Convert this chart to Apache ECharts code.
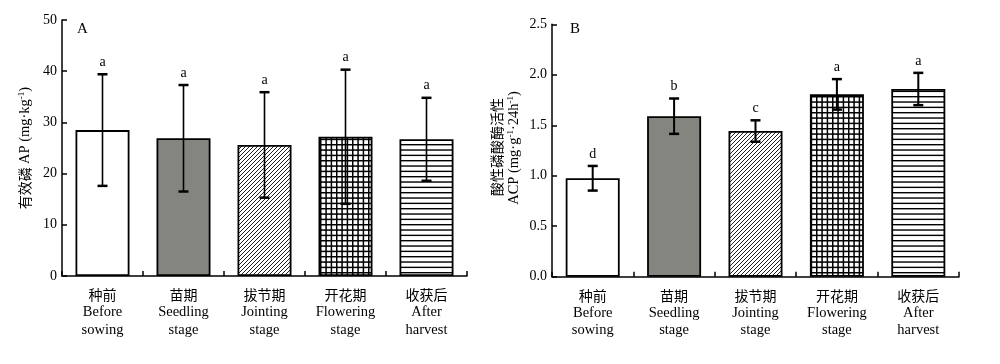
<!DOCTYPE html>
<html>
<head>
<meta charset="utf-8">
<script src="https://cdn.jsdelivr.net/npm/echarts@6/dist/echarts.min.js"></script>
<style>html,body{margin:0;padding:0;background:#fff}#c{width:1000px;height:364px}</style>
</head>
<body>
<div id="c"></div>
<script>
// ---- data ----
const catCN = ['种前', '苗期', '拔节期', '开花期', '收获后'];
const catEN1 = ['Before', 'Seedling', 'Jointing', 'Flowering', 'After'];
const catEN2 = ['sowing', 'stage', 'stage', 'stage', 'harvest'];

const apMean = [28.5, 26.9, 25.6, 27.2, 26.7];
const apSD = [10.9, 10.4, 10.3, 13.1, 8.1];
const apLetters = ['a', 'a', 'a', 'a', 'a'];

const acpMean = [0.975, 1.59, 1.443, 1.806, 1.859];
const acpSD = [0.122, 0.175, 0.106, 0.151, 0.16];
const acpLetters = ['d', 'b', 'c', 'a', 'a'];

const apTicks = [0, 10, 20, 30, 40, 50];
const acpTicks = ['0.0', '0.5', '1.0', '1.5', '2.0', '2.5'];

// ---- patterns ----
function makeTile(w, h, draw) {
  const c = document.createElement('canvas');
  c.width = w; c.height = h;
  const g = c.getContext('2d');
  g.fillStyle = '#fff'; g.fillRect(0, 0, w, h);
  draw(g, w, h);
  return { image: c, repeat: 'repeat' };
}
const patDiag = makeTile(4, 4, (g, w, h) => {
  g.strokeStyle = '#222'; g.lineWidth = 1;
  g.beginPath();
  g.moveTo(-1, h + 1); g.lineTo(w + 1, -1);
  g.moveTo(-1 - w, h + 1); g.lineTo(1, -1);
  g.moveTo(w - 1, h + 1); g.lineTo(2 * w + 1, -1);
  g.stroke();
});
const patGrid = makeTile(16, 16, (g, w, h) => {
  g.fillStyle = '#000';
  [0, 5.33, 10.67].forEach(p => {
    g.fillRect(p, 0, 1.5, h);
    g.fillRect(0, p, w, 1.5);
  });
});
const patHoriz = makeTile(16, 16, (g, w, h) => {
  g.fillStyle = '#000';
  [0, 5.33, 10.67].forEach(p => { g.fillRect(0, p, w, 1.4); });
});
const fills = ['#ffffff', '#858580', patDiag, patGrid, patHoriz];

const serif = '"Liberation Serif","DejaVu Serif",serif';
const cjk = '"Noto Sans CJK SC",sans-serif';

const catLabels = catCN.map((c, i) => c + '\n' + catEN1[i] + '\n' + catEN2[i]);

function errSeries(mean, sd, letters, xi, lw) {
  return {
    type: 'custom', xAxisIndex: xi, yAxisIndex: xi, z: 5,
    data: mean.map((m, i) => [i, m, m + sd[i], m - sd[i]]),
    renderItem: function (params, api) {
      const t = api.coord([api.value(0), api.value(2)]);
      const b = api.coord([api.value(0), api.value(3)]);
      const hw = 5;
      return {
        type: 'group', children: [
          { type: 'line', shape: { x1: t[0], y1: t[1], x2: b[0], y2: b[1] }, style: { stroke: '#000', lineWidth: lw } },
          { type: 'line', shape: { x1: t[0] - hw, y1: t[1], x2: t[0] + hw, y2: t[1] }, style: { stroke: '#000', lineWidth: 2.5 } },
          { type: 'line', shape: { x1: b[0] - hw, y1: b[1], x2: b[0] + hw, y2: b[1] }, style: { stroke: '#000', lineWidth: 2.5 } },
          { type: 'text', style: { text: letters[params.dataIndex], x: t[0], y: t[1] - 12, textAlign: 'center', textVerticalAlign: 'middle', font: '14px ' + serif, fill: '#000' } }
        ]
      };
    }
  };
}

function xAxisDef(gi) {
  return {
    type: 'category', gridIndex: gi, data: catLabels,
    axisLine: { lineStyle: { color: '#000', width: 1.5 } },
    axisTick: { show: true, inside: true, length: 5, interval: 0, lineStyle: { color: '#000', width: 1.5 } },
    axisLabel: {
      interval: 0, hideOverlap: false,
      margin: 10, color: '#000', lineHeight: 17.5,
      formatter: function (v) {
        const p = v.split('\n');
        return '{cn|' + p[0] + '}\n{en|' + p[1] + '}\n{en|' + p[2] + '}';
      },
      rich: {
        cn: { fontFamily: cjk, fontSize: 14, lineHeight: 17.5, color: '#000' },
        en: { fontFamily: serif, fontSize: 14.5, lineHeight: 17.5, color: '#000' }
      }
    }
  };
}

const chart = echarts.init(document.getElementById('c'), null, { renderer: 'canvas' });
chart.setOption({
  animation: false,
  grid: [
    { left: 62, right: 533, top: 20, bottom: 88 },
    { left: 552, right: 41, top: 24.3, bottom: 87.3 }
  ],
  xAxis: [xAxisDef(0), xAxisDef(1)],
  yAxis: [
    {
      type: 'value', gridIndex: 0, min: 0, max: 50, interval: 10,
      splitLine: { show: false },
      axisLine: { show: true, lineStyle: { color: '#000', width: 1.5 } },
      axisTick: { show: true, inside: true, length: 5, lineStyle: { color: '#000', width: 1.5 } },
      axisLabel: { margin: 5, color: '#000', fontFamily: serif, fontSize: 14, formatter: v => String(apTicks[Math.round(v / 10)]) }
    },
    {
      type: 'value', gridIndex: 1, min: 0, max: 2.5, interval: 0.5,
      splitLine: { show: false },
      axisLine: { show: true, lineStyle: { color: '#000', width: 1.5 } },
      axisTick: { show: true, inside: true, length: 5, lineStyle: { color: '#000', width: 1.5 } },
      axisLabel: { margin: 5, color: '#000', fontFamily: serif, fontSize: 14, formatter: v => acpTicks[Math.round(v / 0.5)] }
    }
  ],
  series: [
    {
      type: 'bar', xAxisIndex: 0, yAxisIndex: 0, barWidth: 54,
      data: apMean.map((v, i) => ({ value: v, itemStyle: { color: fills[i], borderColor: '#000', borderWidth: 1.8 } }))
    },
    {
      type: 'bar', xAxisIndex: 1, yAxisIndex: 1, barWidth: 54,
      data: acpMean.map((v, i) => ({ value: v, itemStyle: { color: fills[i], borderColor: '#000', borderWidth: 1.8 } }))
    },
    errSeries(apMean, apSD, apLetters, 0, 1.6),
    errSeries(acpMean, acpSD, acpLetters, 1, 2)
  ],
  graphic: [
    { type: 'text', left: 77, top: 22, style: { text: 'A', font: '15px ' + serif, fill: '#000' } },
    { type: 'text', left: 570, top: 22, style: { text: 'B', font: '15px ' + serif, fill: '#000' } },
    {
      type: 'text', x: 25, y: 148, rotation: Math.PI / 2,
      style: {
        text: '{cn|有效磷 }{en|AP (mg·kg}{sup|-1}{en|)}',
        align: 'center', verticalAlign: 'middle',
        rich: {
          cn: { fontFamily: cjk, fontSize: 14, fill: '#000' },
          en: { fontFamily: serif, fontSize: 14.5, fill: '#000' },
          sup: { fontFamily: serif, fontSize: 9, fill: '#000', verticalAlign: 'top', padding: [0, 0, 7, 0] }
        }
      }
    },
    {
      type: 'text', x: 497, y: 147, rotation: Math.PI / 2,
      style: { text: '酸性磷酸酶活性', align: 'center', verticalAlign: 'middle', font: '14px ' + cjk, fill: '#000' }
    },
    {
      type: 'text', x: 514, y: 148, rotation: Math.PI / 2,
      style: {
        text: '{en|ACP (mg·g}{sup|-1}{en|·24h}{sup|-1}{en|)}',
        align: 'center', verticalAlign: 'middle',
        rich: {
          en: { fontFamily: serif, fontSize: 14.5, fill: '#000' },
          sup: { fontFamily: serif, fontSize: 9, fill: '#000', verticalAlign: 'top', padding: [0, 0, 7, 0] }
        }
      }
    }
  ]
});
</script>
</body>
</html>
